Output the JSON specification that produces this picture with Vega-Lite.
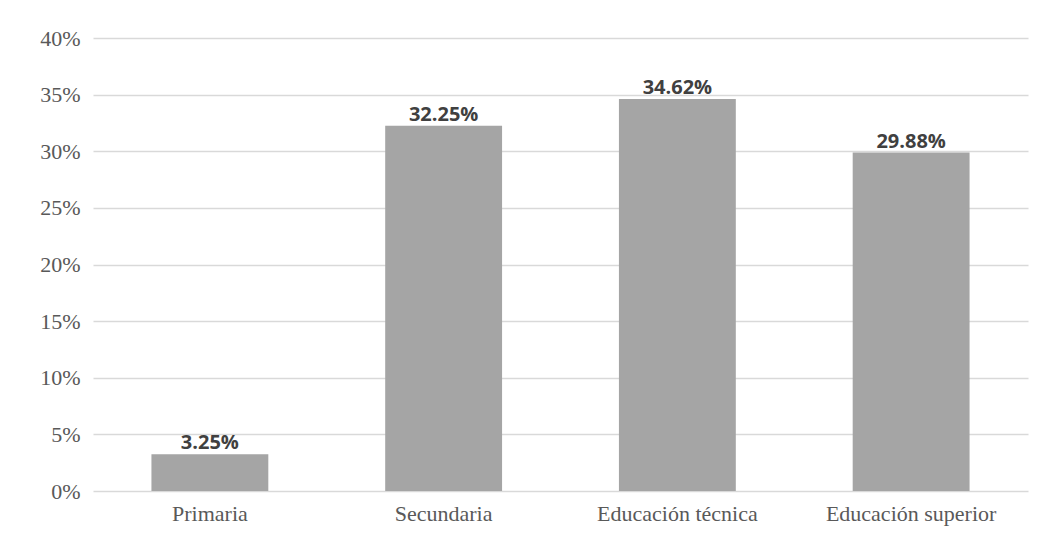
{
  "$schema": "https://vega.github.io/schema/vega-lite/v6.json",
  "autosize": {"type": "none"},
  "padding": {"left": 93, "top": 38, "right": 13, "bottom": 59},
  "width": 935,
  "height": 453,
  "background": "white",
  "config": {"view": {"stroke": null}},
  "data": {
    "values": [
      {"nivel": "Primaria", "valor": 0.0325},
      {"nivel": "Secundaria", "valor": 0.3225},
      {"nivel": "Educación técnica", "valor": 0.3462},
      {"nivel": "Educación superior", "valor": 0.2988}
    ]
  },
  "encoding": {
    "x": {
      "field": "nivel", "type": "nominal", "sort": null,
      "scale": {"paddingInner": 0.5, "paddingOuter": 0.25},
      "axis": {"title": null, "labelAngle": 0, "ticks": false, "domain": false,
        "labelFont": "Liberation Serif", "labelFontSize": 22, "labelColor": "#595959", "labelPadding": 12}
    },
    "y": {
      "field": "valor", "type": "quantitative",
      "scale": {"domain": [0, 0.4]},
      "axis": {"title": null, "format": ".0%", "values": [0,0.05,0.1,0.15,0.2,0.25,0.3,0.35,0.4],
        "labelOverlap": false, "ticks": false, "domain": false, "grid": true, "gridColor": "#d9d9d9", "gridWidth": 1.3,
        "labelFont": "Liberation Serif", "labelFontSize": 22, "labelColor": "#595959", "labelPadding": 13}
    }
  },
  "layer": [
    {"mark": {"type": "bar", "color": "#a5a5a5"}},
    {
      "mark": {"type": "text", "baseline": "bottom", "dy": -1, "font": "Open Sans", "fontWeight": "bold", "fontSize": 20, "color": "#404040"},
      "encoding": {"text": {"field": "valor", "type": "quantitative", "format": ".2%"}}
    }
  ]
}
